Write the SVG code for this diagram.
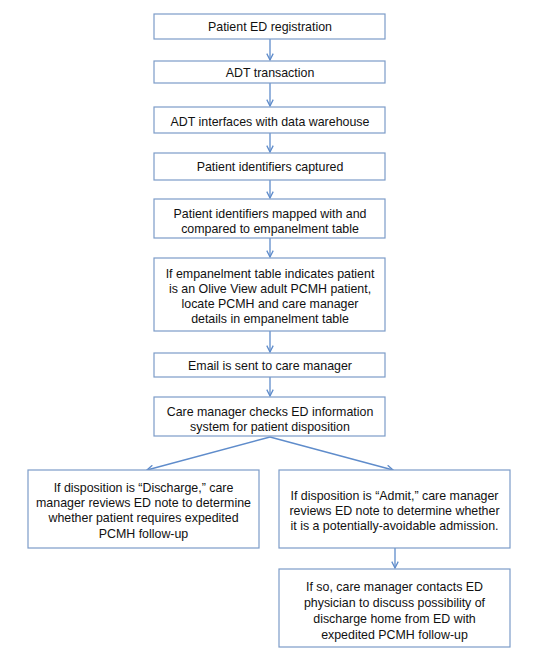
<svg xmlns="http://www.w3.org/2000/svg" width="541" height="658" viewBox="0 0 541 658">
<style>
.box{fill:#fff;stroke:#7c9cc8;stroke-width:1.2}
text{font-family:"Liberation Sans",Arial,sans-serif;font-size:12.4px;fill:#111;text-anchor:middle}
.c{stroke:#5f8ccb;stroke-width:1.3;fill:none}
</style>
<defs>
<marker id="ah" viewBox="0 0 10 10" refX="9" refY="5" markerWidth="8" markerHeight="8" markerUnits="userSpaceOnUse" orient="auto">
<path d="M1,1 L9,5 L1,9" fill="none" stroke="#5f8ccb" stroke-width="1.6"/>
</marker>
</defs>
<rect width="541" height="658" fill="#fff"/>
<g id="connectors">
<line class="c" x1="270" y1="39" x2="270" y2="60" marker-end="url(#ah)"/>
<line class="c" x1="270" y1="83" x2="270" y2="106" marker-end="url(#ah)"/>
<line class="c" x1="270" y1="133" x2="270" y2="152" marker-end="url(#ah)"/>
<line class="c" x1="270" y1="180" x2="270" y2="198" marker-end="url(#ah)"/>
<line class="c" x1="270" y1="238" x2="270" y2="257" marker-end="url(#ah)"/>
<line class="c" x1="270" y1="331" x2="270" y2="352" marker-end="url(#ah)"/>
<line class="c" x1="270" y1="377" x2="270" y2="396" marker-end="url(#ah)"/>
<line class="c" x1="270" y1="437" x2="147" y2="470" marker-end="url(#ah)"/>
<line class="c" x1="270" y1="437" x2="393" y2="470" marker-end="url(#ah)"/>
<line class="c" x1="395" y1="548" x2="395" y2="568" marker-end="url(#ah)"/>
</g>
<g id="n1"><rect class="box" x="154" y="14" width="231" height="25"/><text x="270" y="31">Patient ED registration</text></g>
<g id="n2"><rect class="box" x="154" y="61" width="231" height="22"/><text x="270" y="76.5">ADT transaction</text></g>
<g id="n3"><rect class="box" x="154" y="107" width="231" height="26"/><text x="270" y="125.5">ADT interfaces with data warehouse</text></g>
<g id="n4"><rect class="box" x="154" y="153" width="231" height="27"/><text x="270" y="171">Patient identifiers captured</text></g>
<g id="n5"><rect class="box" x="154" y="199" width="231" height="39"/><text x="270" y="217.5">Patient identifiers mapped with and</text><text x="270" y="232.5">compared to empanelment table</text></g>
<g id="n6"><rect class="box" x="154" y="258" width="231" height="73"/><text x="270" y="277.5">If empanelment table indicates patient</text><text x="270" y="292.5">is an Olive View adult PCMH patient,</text><text x="270" y="307.5">locate PCMH and care manager</text><text x="270" y="322.5">details in empanelment table</text></g>
<g id="n7"><rect class="box" x="154" y="353" width="231" height="24"/><text x="270" y="369.5">Email is sent to care manager</text></g>
<g id="n8"><rect class="box" x="154" y="397" width="231" height="39"/><text x="270" y="415.5">Care manager checks ED information</text><text x="270" y="430.5">system for patient disposition</text></g>
<g id="n9"><rect class="box" x="28" y="470" width="231" height="78"/><text x="143.5" y="491.5">If disposition is “Discharge,” care</text><text x="143.5" y="506.5">manager reviews ED note to determine</text><text x="143.5" y="522">whether patient requires expedited</text><text x="143.5" y="538">PCMH follow-up</text></g>
<g id="n10"><rect class="box" x="279" y="470" width="231" height="78"/><text x="394.5" y="499.5">If disposition is “Admit,” care manager</text><text x="394.5" y="514.5">reviews ED note to determine whether</text><text x="394.5" y="530">it is a potentially-avoidable admission.</text></g>
<g id="n11"><rect class="box" x="279" y="569" width="231" height="78"/><text x="394.5" y="591">If so, care manager contacts ED</text><text x="394.5" y="607">physician to discuss possibility of</text><text x="394.5" y="622.5">discharge home from ED with</text><text x="394.5" y="638.5">expedited PCMH follow-up</text></g>
</svg>
